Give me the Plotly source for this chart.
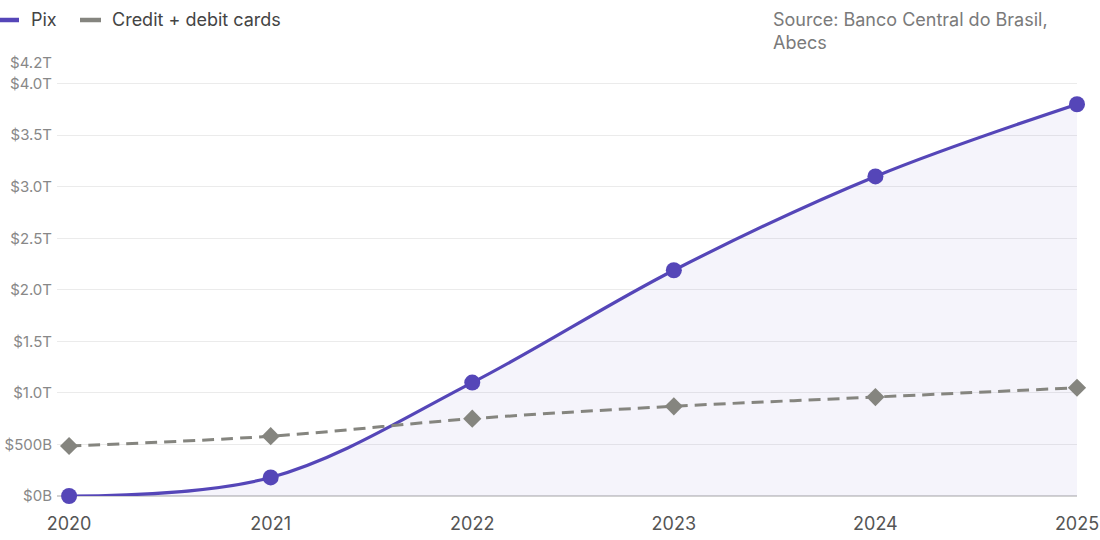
import plotly.graph_objects as go

years = [2020, 2021, 2022, 2023, 2024, 2025]
pix_trillions = [0.0, 0.18, 1.10, 2.19, 3.10, 3.80]
cards_trillions = [0.485, 0.58, 0.75, 0.87, 0.96, 1.05]

y_tick_vals = [0, 0.5, 1.0, 1.5, 2.0, 2.5, 3.0, 3.5, 4.0, 4.2]
y_tick_text = ["$0B", "$500B", "$1.0T", "$1.5T", "$2.0T", "$2.5T", "$3.0T", "$3.5T", "$4.0T", "$4.2T"]
x_tick_text = ["2020", "2021", "2022", "2023", "2024", "2025"]
series_names = ["Pix", "Credit + debit cards"]

FONT = "Inter, Roboto, sans-serif"
PURPLE = "#5546B8"
GRAY = "#85857F"

W, H = 1100, 540
ML, MR, MT, MB = 57, 23, 63, 44
plot_w = W - ML - MR
plot_h = H - MT - MB


def px_x(x):
    return (x - ML) / plot_w


def px_y(y):
    return (H - MB - y) / plot_h


fig = go.Figure()
fig.add_trace(go.Scatter(
    x=years, y=pix_trillions, name=series_names[0], mode="lines+markers", showlegend=False,
    line=dict(color=PURPLE, width=3.2, shape="spline", smoothing=1.0),
    marker=dict(color=PURPLE, size=16, symbol="circle"),
    fill="tozeroy", fillcolor="rgba(85,70,184,0.06)",
    cliponaxis=False,
))
fig.add_trace(go.Scatter(
    x=years, y=cards_trillions, name=series_names[1], mode="lines+markers", showlegend=False,
    line=dict(color=GRAY, width=3, dash="12px,7px", shape="spline"),
    marker=dict(color=GRAY, size=14, symbol="diamond"),
    cliponaxis=False,
))

# legend (line swatches + labels) placed as in the reference
legend_items = [(series_names[0], PURPLE, -4, 19, 29), (series_names[1], GRAY, 80, 101, 110)]
for name, color, x0, x1, tx in legend_items:
    fig.add_shape(type="line", xref="paper", yref="paper",
                  x0=px_x(x0), x1=px_x(x1), y0=px_y(20), y1=px_y(20),
                  line=dict(color=color, width=4.5))
    fig.add_annotation(text=name, xref="paper", yref="paper", x=px_x(tx), y=px_y(20),
                       xanchor="left", yanchor="middle", showarrow=False,
                       font=dict(family=FONT, size=18, color="#444"))

fig.add_annotation(
    text="Source: Banco Central do Brasil,<br>Abecs",
    xref="paper", yref="paper", x=px_x(771), y=1.0,
    yshift=56, xanchor="left", yanchor="top", align="left", showarrow=False,
    font=dict(family=FONT, size=18, color="#7a7a7a"),
)

fig.update_layout(
    width=W, height=H,
    margin=dict(l=ML, r=MR, t=MT, b=MB),
    paper_bgcolor="white", plot_bgcolor="white",
    font=dict(family=FONT, color="#555"),
    showlegend=False,
    hovermode=False,
    xaxis=dict(
        range=[2019.94, 2025], tickmode="array", tickvals=years, ticktext=x_tick_text,
        showgrid=False, zeroline=False, showline=False, ticks="", automargin=False,
        ticklabelstandoff=15,
        tickfont=dict(family=FONT, size=18, color="#555"),
    ),
    yaxis=dict(
        range=[0, 4.2], tickmode="array", tickvals=y_tick_vals, ticktext=y_tick_text,
        showgrid=True, gridcolor="#ebebeb", gridwidth=1,
        zeroline=True, zerolinecolor="#d2d2d2", zerolinewidth=2,
        ticks="", ticklabelstandoff=4, automargin=False,
        tickfont=dict(family=FONT, size=15, color="#888"),
    ),
)

fig.write_html("out.html", config={"displayModeBar": False},
               post_script="document.body.style.margin='0';")
